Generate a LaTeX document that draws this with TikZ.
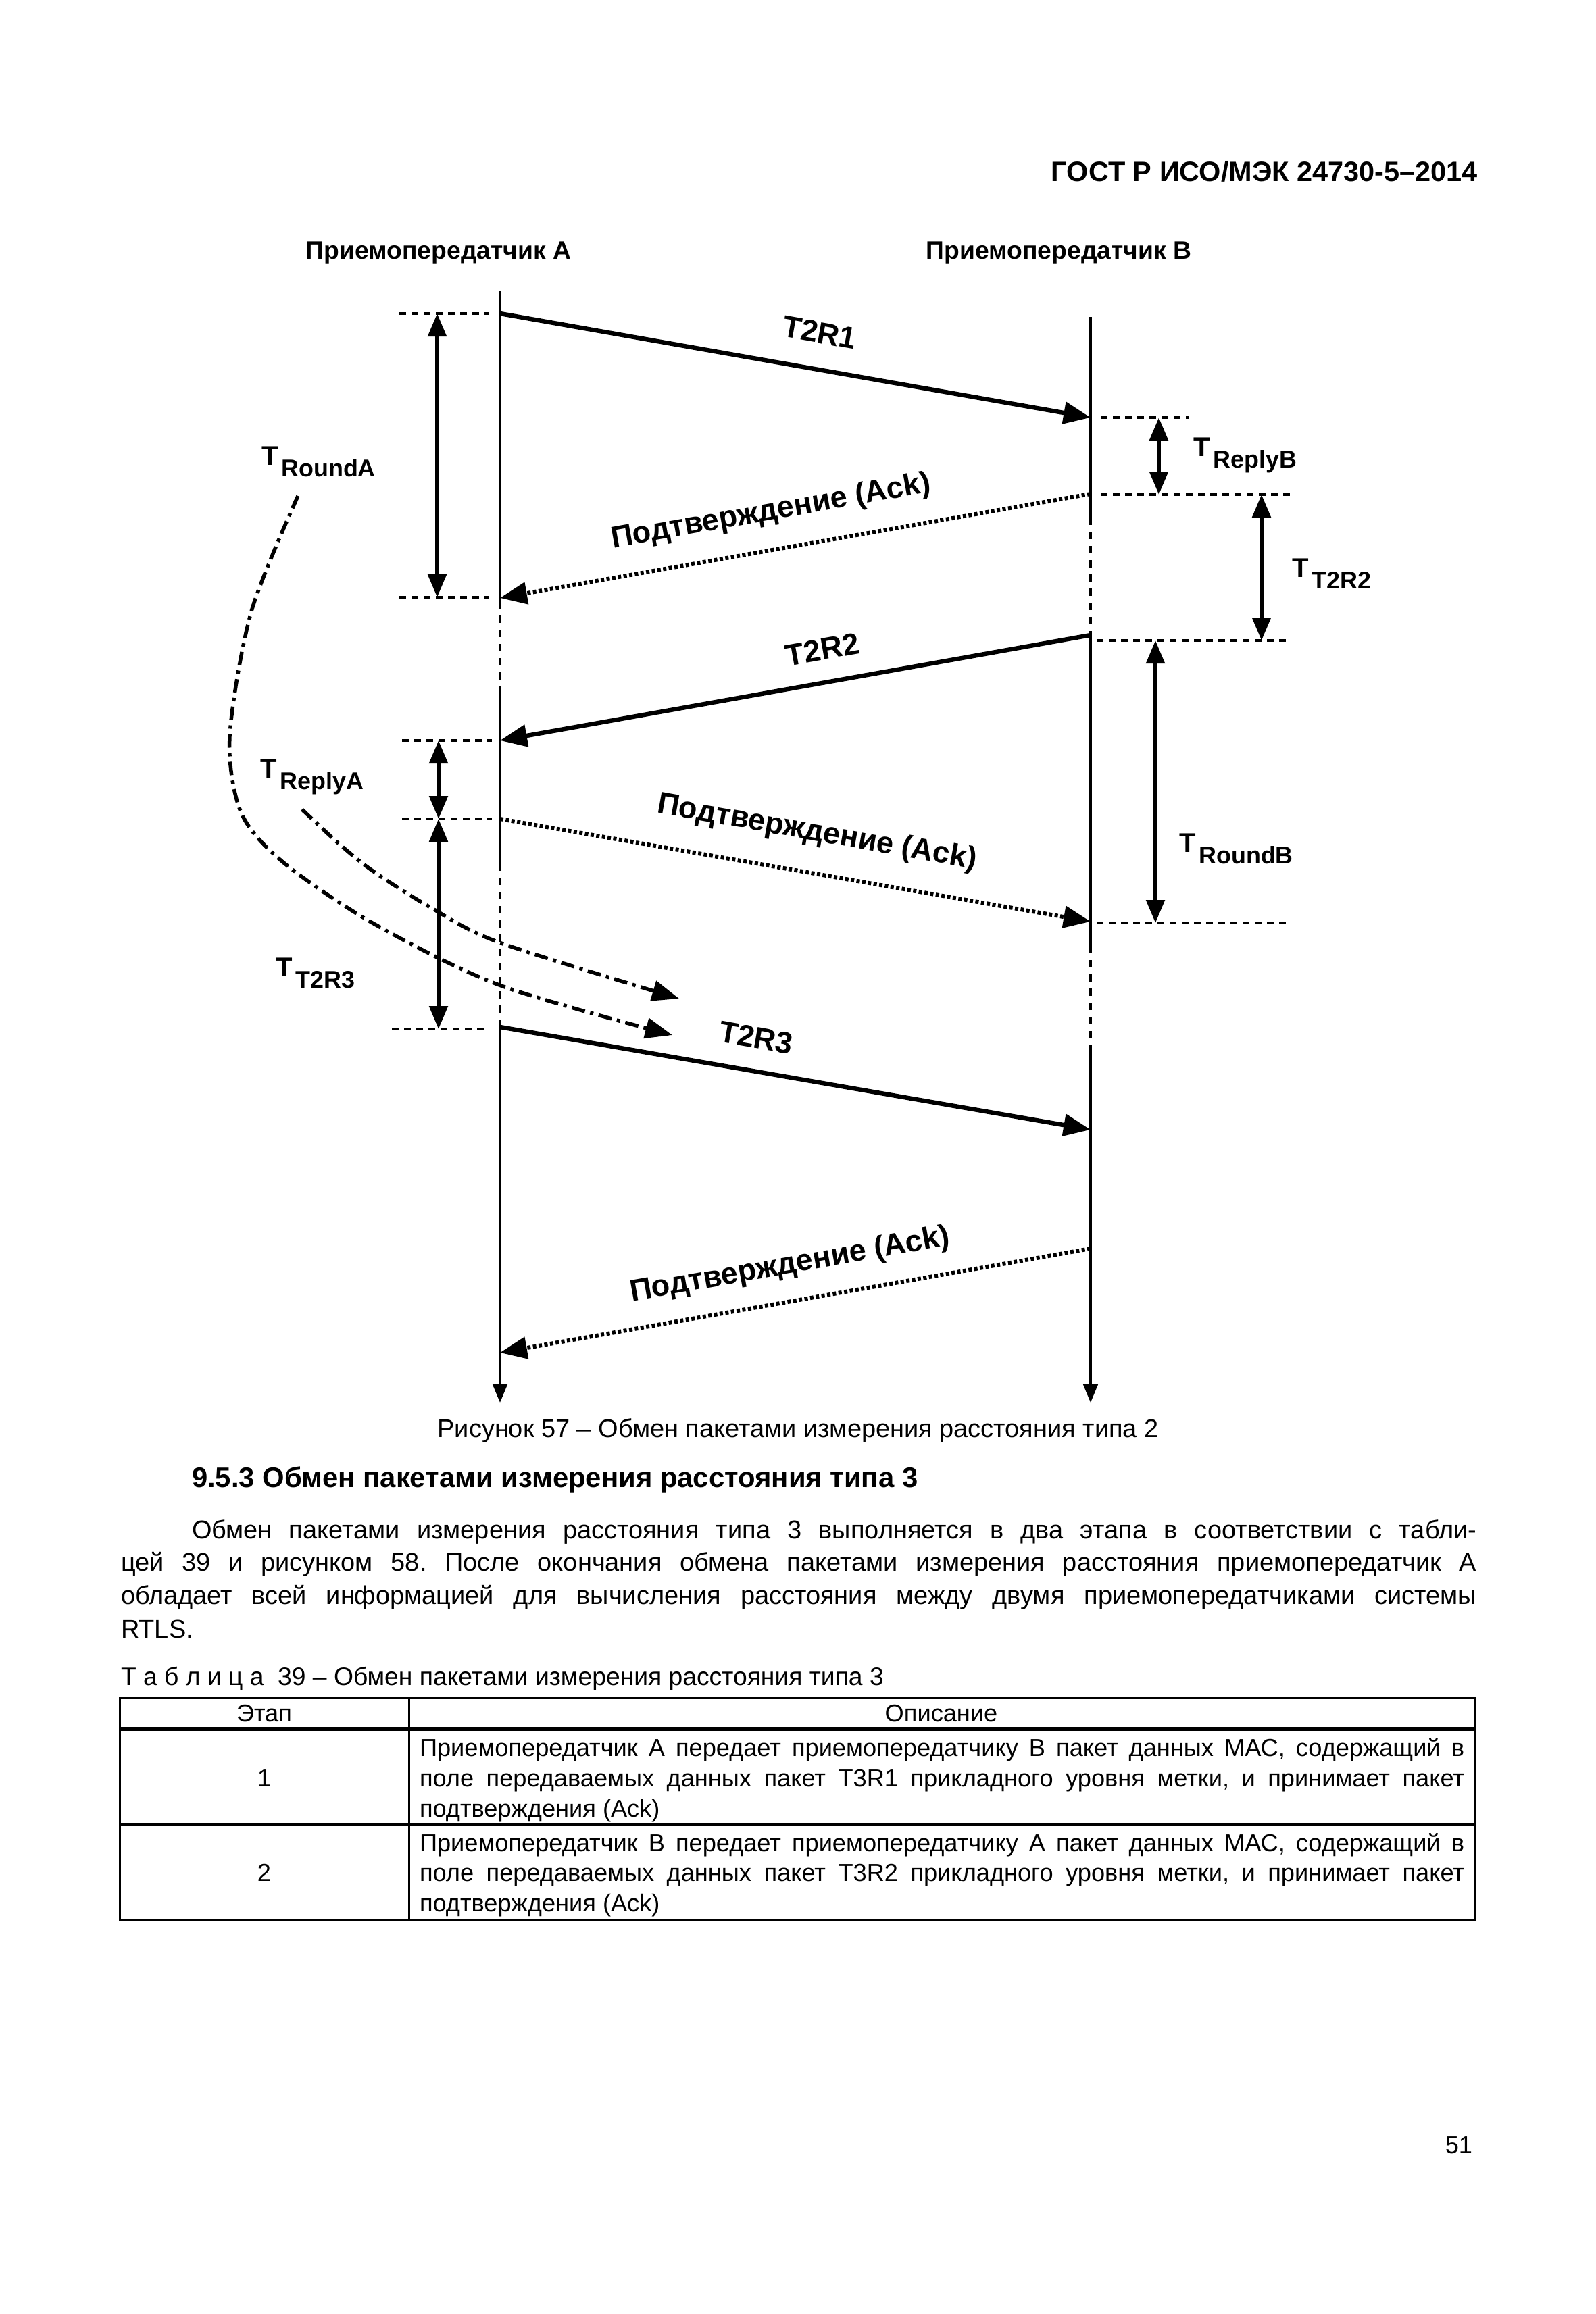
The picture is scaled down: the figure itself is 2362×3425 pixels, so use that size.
\documentclass[tikz,border=0pt]{standalone}
\usepackage{fontspec}
\setmainfont{Liberation Sans}
\usetikzlibrary{arrows.meta}
\frenchspacing
% T with a lowered index, as on the time spans
\newcommand{\tspan}[1]{\bfseries\raisebox{1.7mm}{\fontsize{11.4}{12}\selectfont T}\hspace{0.5mm}{\fontsize{10.2}{12}\selectfont #1}}
\begin{document}
\begin{tikzpicture}[x=0.1mm,y=-0.1mm,every node/.style={inner sep=0pt,outer sep=0pt},
  life/.style={line width=0.4mm},
  lifegap/.style={line width=0.4mm,dash pattern=on 1.1mm off 1mm},
  msg/.style={line width=0.65mm,-{Triangle[length=4mm,width=3.2mm]}},
  ack/.style={line width=0.6mm,dash pattern=on 0.5mm off 0.35mm,-{Triangle[length=4mm,width=3.2mm]}},
  level/.style={line width=0.4mm,dash pattern=on 1mm off 0.8mm},
  span/.style={line width=0.55mm,{Triangle[length=3.4mm,width=2.7mm]}-{Triangle[length=3.4mm,width=2.7mm]}},
  hint/.style={line width=0.55mm,dash pattern=on 2mm off 0.8mm on 0.5mm off 0.8mm,-{Triangle[length=4mm,width=3mm]}},
  lbl/.style={font=\bfseries\fontsize{12.8}{14}\selectfont},
  body/.style={font=\fontsize{10.8}{12}\selectfont,anchor=base west},
  cell/.style={font=\fontsize{10.3}{12}\selectfont,anchor=base west}]
\fill[white] (0,0) rectangle (2362,3425);
\useasboundingbox (0,0) rectangle (2362,3425);
% page head
\node[anchor=base east,font=\bfseries\fontsize{11.8}{14}\selectfont] (hdr) at (2187,268) {ГОСТ Р ИСО/МЭК 24730-5–2014};
\node[anchor=base,font=\bfseries\fontsize{10.6}{12}\selectfont] (labA) at (649,383) {Приемопередатчик А};
\node[anchor=base,font=\bfseries\fontsize{10.6}{12}\selectfont] (labB) at (1567,383) {Приемопередатчик В};
% events on the two lifelines
\coordinate (aTop) at (740,430); \coordinate (bTop) at (1614,469);
\coordinate (a1) at (740,464);  \coordinate (b1) at (1614,618);
\coordinate (b2) at (1614,731); \coordinate (a2) at (740,885);
\coordinate (b3) at (1614,940); \coordinate (a3) at (740,1096);
\coordinate (a4) at (740,1212); \coordinate (b4) at (1614,1364);
\coordinate (a5) at (740,1520); \coordinate (b5) at (1614,1672);
\coordinate (b6) at (1614,1848); \coordinate (a6) at (740,2002);
\coordinate (aEnd) at (740,2076); \coordinate (bEnd) at (1614,2076);
% lifeline A
\draw[life] (aTop) -- (740,890);
\draw[lifegap] (740,890) -- (740,1016);
\draw[life] (740,1016) -- (740,1278);
\draw[lifegap] (740,1278) -- (740,1518);
\draw[life,-{Triangle[length=2.8mm,width=2.2mm]}] (740,1518) -- (aEnd);
% lifeline B
\draw[life] (bTop) -- (1614,766);
\draw[lifegap] (1614,766) -- (b3);
\draw[life] (b3) -- (1614,1400);
\draw[lifegap] (1614,1400) -- (1614,1550);
\draw[life,-{Triangle[length=2.8mm,width=2.2mm]}] (1614,1550) -- (bEnd);
% packets
\draw[msg] (a1) -- (b1);
\draw[ack] (b2) -- (a2);
\draw[msg] (b3) -- (a3);
\draw[ack] (a4) -- (b4);
\draw[msg] (a5) -- (b5);
\draw[ack] (b6) -- (a6);
\node[lbl,rotate=-10] (tR1) at (1213,492) {T2R1};
\node[lbl,rotate=10] (ack1) at (1141,758) {Подтверждение (Ack)};
\node[lbl,rotate=10] (tR2) at (1217,961) {T2R2};
\node[lbl,rotate=-10] (ack2) at (1209,1233) {Подтверждение (Ack)};
\node[lbl,rotate=-10] (tR3) at (1119,1536) {T2R3};
\node[lbl,rotate=10] (ack3) at (1169,1873) {Подтверждение (Ack)};
% dotted levels
\foreach \y in {464,884} \draw[level] (591,\y) -- (723,\y);
\foreach \y in {1096,1212} \draw[level] (595,\y) -- (728,\y);
\draw[level] (580,1523) -- (718,1523);
\draw[level] (1629,618) -- (1759,618);
\draw[level] (1629,732) -- (1911,732);
\foreach \y in {948,1366} \draw[level] (1623,\y) -- (1905,\y);
% time spans
\foreach \n/\x/\ya/\yb in {rA/647/464/884,pB/1715/618/732,t2/1867/732/948,rB/1710/948/1366,pA/649/1096/1212,t3/649/1212/1523} {
  \coordinate (\n u) at (\x,\ya); \coordinate (\n d) at (\x,\yb);
  \draw[span] (\n u) -- (\n d);
}
\node[anchor=base west] (lrA) at (387,705) {\tspan{RoundA}};
\node[anchor=base west] (lpB) at (1766,692) {\tspan{ReplyB}};
\node[anchor=base west] (lt2) at (1912,871) {\tspan{T2R2}};
\node[anchor=base west] (lrB) at (1745,1278) {\tspan{RoundB}};
\node[anchor=base west] (lpA) at (385,1168) {\tspan{ReplyA}};
\node[anchor=base west] (lt3) at (408,1462) {\tspan{T2R3}};
% dash-dot hints
\draw[hint] plot[smooth] coordinates {(441,734) (372,905) (340,1090) (357,1203) (420,1277) (553,1367) (739,1458) (995,1532)};
\draw[hint] plot[smooth] coordinates {(447,1198) (503,1250) (553,1290) (637,1343) (739,1395) (1005,1478)};
% caption and text
\node[anchor=base,font=\fontsize{10.8}{12}\selectfont] (cap) at (1181,2127) {Рисунок 57 – Обмен пакетами измерения расстояния типа 2};
\node[anchor=base west,font=\bfseries\fontsize{11.9}{13}\selectfont] (sec) at (284,2201) {9.5.3 Обмен пакетами измерения расстояния типа 3};
\node[body] (p1) at (284,2277) {\makebox[190.1mm][s]{Обмен пакетами измерения расстояния типа 3 выполняется в два этапа в соответствии с табли-}};
\node[body] (p2) at (179,2325) {\makebox[200.6mm][s]{цей 39 и рисунком 58. После окончания обмена пакетами измерения расстояния приемопередатчик А}};
\node[body] (p3) at (179,2374) {\makebox[200.6mm][s]{обладает всей информацией для вычисления расстояния между двумя приемопередатчиками системы}};
\node[body] (p4) at (179,2424) {RTLS.};
% table
\node[anchor=base west,font=\fontsize{10.6}{12}\selectfont] (tcap) at (179,2494) {Т а б л и ц а~ 39 – Обмен пакетами измерения расстояния типа 3};
\draw[line width=0.3mm] (177,2513) rectangle (2182,2842);
\draw[line width=0.3mm] (605,2513) -- (605,2842);
\draw[line width=0.6mm] (177,2559) -- (2182,2559);
\draw[line width=0.3mm] (177,2700) -- (2182,2700);
\node[anchor=base,font=\fontsize{10.3}{12}\selectfont] (hd1) at (391,2548) {Этап};
\node[anchor=base,font=\fontsize{10.3}{12}\selectfont] (hd2) at (1393,2548) {Описание};
\node[anchor=base,font=\fontsize{10.3}{12}\selectfont] (n1) at (391,2644) {1};
\node[anchor=base,font=\fontsize{10.3}{12}\selectfont] (n2) at (391,2784) {2};
\node[cell] (c11) at (621,2599) {\makebox[154.6mm][s]{Приемопередатчик А передает приемопередатчику В пакет данных МАС, содержащий в}};
\node[cell] (c12) at (621,2644) {\makebox[154.6mm][s]{поле передаваемых данных пакет T3R1 прикладного уровня метки, и принимает пакет}};
\node[cell] (c13) at (621,2689) {подтверждения (Ack)};
\node[cell] (c21) at (621,2740) {\makebox[154.6mm][s]{Приемопередатчик В передает приемопередатчику А пакет данных МАС, содержащий в}};
\node[cell] (c22) at (621,2784) {\makebox[154.6mm][s]{поле передаваемых данных пакет T3R2 прикладного уровня метки, и принимает пакет}};
\node[cell] (c23) at (621,2829) {подтверждения (Ack)};
\node[anchor=base east,font=\fontsize{10.3}{12}\selectfont] (pg) at (2179,3187) {51};
\end{tikzpicture}
\end{document}
